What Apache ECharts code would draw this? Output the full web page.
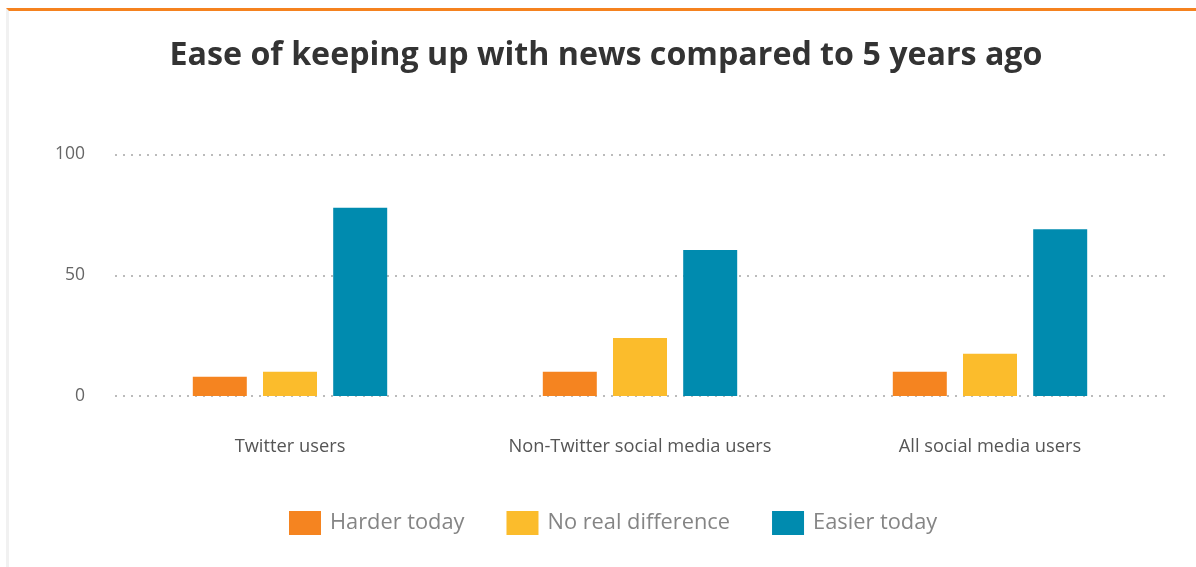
<!DOCTYPE html>
<html>
<head>
<meta charset="utf-8">
<script src="https://cdn.jsdelivr.net/npm/echarts@6/dist/echarts.min.js"></script>
<style>
html,body{margin:0;padding:0;background:#fff;}
#frame{position:absolute;left:6px;top:8px;width:1190px;height:559px;border-top:3px solid #f5821f;border-left:3px solid #f1f1f1;box-sizing:border-box;}
#chart{position:absolute;left:0;top:0;width:1196px;height:567px;}
</style>
</head>
<body>
<div id="frame"></div>
<div id="chart"></div>
<script>
var title = 'Ease of keeping up with news compared to 5 years ago';
var categories = ['Twitter users', 'Non-Twitter social media users', 'All social media users'];
var seriesNames = ['Harder today', 'No real difference', 'Easier today'];
var harderToday = [8, 10, 10];
var noRealDifference = [10, 24, 17.5];
var easierToday = [78, 60.5, 69];
var yTicks = [0, 50, 100];
var colors = ['#f58420', '#fbbc2c', '#008baf'];

var chart = echarts.init(document.getElementById('chart'));
var values = [harderToday, noRealDifference, easierToday];
chart.setOption({
  animation: false,
  color: colors,
  title: {
    text: title,
    left: 601,
    textAlign: 'center',
    top: 35,
    textStyle: {fontFamily: 'Open Sans', fontWeight: 'bold', fontSize: 32.2, color: '#333333'}
  },
  legend: {
    bottom: 27,
    left: 284,
    itemWidth: 32,
    itemHeight: 24,
    itemGap: 42,
    icon: 'rect',
    textStyle: {fontFamily: 'Open Sans', fontSize: 21.8, color: '#858585', padding: [0, 0, 0, 4]},
    data: seriesNames
  },
  grid: {left: 115, right: 31, top: 154.5, bottom: 171},
  xAxis: {
    type: 'category',
    data: categories,
    axisLine: {show: false},
    axisTick: {show: false},
    axisLabel: {margin: 42, fontFamily: 'Open Sans', fontSize: 18.3, color: '#555555'}
  },
  yAxis: {
    type: 'value',
    min: yTicks[0],
    max: yTicks[yTicks.length - 1],
    interval: yTicks[1] - yTicks[0],
    axisLine: {show: false},
    axisTick: {show: false},
    axisLabel: {margin: 30, fontFamily: 'Open Sans', fontSize: 17.5, color: '#666666'},
    splitLine: {lineStyle: {type: [2, 6], color: '#bbbbbb', width: 2}}
  },
  series: seriesNames.map(function (n, i) {
    return {
      name: n,
      type: 'bar',
      data: values[i],
      barWidth: 54,
      barGap: '30%'
    };
  })
});
</script>
</body>
</html>
